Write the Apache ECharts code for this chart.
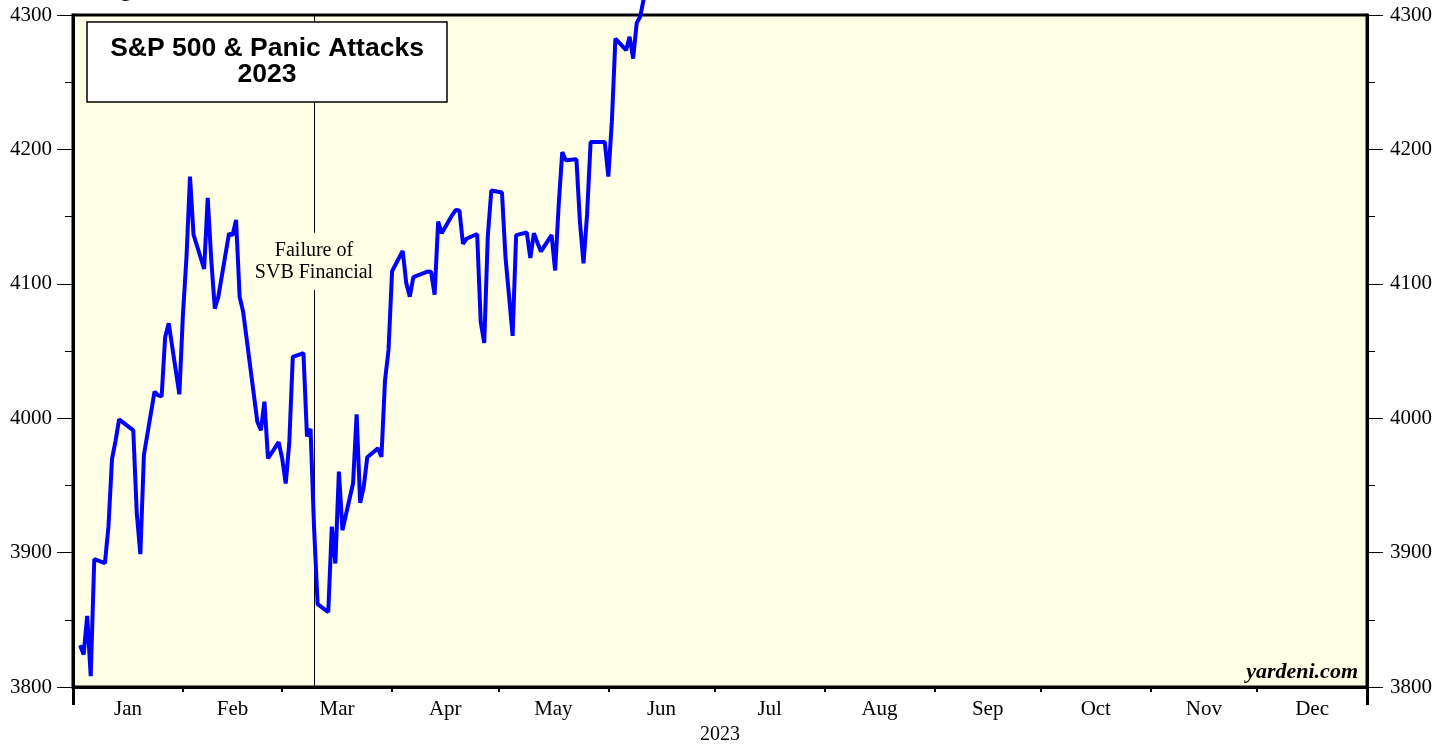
<!DOCTYPE html>
<html>
<head>
<meta charset="utf-8">
<script src="https://cdn.jsdelivr.net/npm/echarts@6/dist/echarts.min.js"></script>
<style>
html,body{margin:0;padding:0;background:#fff;}
#chart{width:1450px;height:744px;}
</style>
</head>
<body>
<div id="chart"></div>
<script>
// ---- data (2023, S&P 500 daily close) ----
const dates = ['01-02','01-03','01-04','01-05','01-06','01-09','01-10','01-11','01-12','01-13',
'01-17','01-18','01-19','01-20','01-23','01-24','01-25','01-26','01-27','01-30','01-31',
'02-01','02-02','02-03','02-06','02-07','02-08','02-09','02-10','02-13','02-14','02-15','02-16','02-17',
'02-21','02-22','02-23','02-24','02-27','02-28',
'03-01','03-02','03-03','03-06','03-07','03-08','03-09','03-10','03-13','03-14','03-15','03-16','03-17',
'03-20','03-21','03-22','03-23','03-24','03-27','03-28','03-29','03-30','03-31',
'04-03','04-04','04-05','04-06','04-10','04-11','04-12','04-13','04-14','04-17','04-18','04-19','04-20','04-21',
'04-24','04-25','04-26','04-27','04-28',
'05-01','05-02','05-03','05-04','05-05','05-08','05-09','05-10','05-11','05-12','05-15','05-16','05-17','05-18','05-19',
'05-22','05-23','05-24','05-25','05-26','05-30','05-31',
'06-01','06-02','06-05','06-06','06-07','06-08','06-09','06-12'];
const spx = [3831,3824.14,3852.97,3808.10,3895.08,3892.09,3919.25,3969.61,3983.17,3999.09,
3990.97,3928.86,3898.85,3972.61,4019.81,4016.95,4016.22,4060.43,4070.56,4017.77,4076.60,
4119.21,4179.76,4136.48,4111.08,4164.00,4117.86,4081.50,4090.46,4137.29,4136.13,4147.60,4090.41,4079.09,
3997.34,3991.05,4012.32,3970.04,3982.24,3970.15,
3951.39,3981.35,4045.64,4048.42,3986.37,3992.01,3918.32,3861.59,3855.76,3919.29,3891.93,3960.28,3916.64,
3951.57,4002.87,3936.97,3948.72,3970.99,3977.53,3971.27,4027.81,4050.83,4109.31,
4124.51,4100.60,4090.38,4105.02,4109.11,4108.94,4091.95,4146.22,4137.64,4151.32,4154.87,4154.52,4129.79,4133.52,
4137.04,4071.63,4055.99,4135.35,4169.48,
4167.87,4119.58,4090.75,4061.22,4136.25,4138.12,4119.17,4137.64,4130.62,4124.08,4136.28,4109.90,4158.77,4198.05,4191.98,
4192.63,4145.58,4115.24,4151.28,4205.45,4205.52,4179.83,
4221.02,4282.37,4273.79,4283.85,4267.52,4293.93,4298.86,4338.93];
const monthNames = ['Jan','Feb','Mar','Apr','May','Jun','Jul','Aug','Sep','Oct','Nov','Dec'];
const monthStarts = [0,31,59,90,120,151,181,212,243,273,304,334,365];
const yearLabel = '2023';
const yTicks = [3800,3900,4000,4100,4200,4300];
const svbDay = 68; // event line (day of year axis units)
const svbLabel = 'Failure of\nSVB Financial';
const titleLines = ['S&P 500 & Panic Attacks','2023'];

// ---- helpers ----
function dayOfYear(md){
  const [m,d] = md.split('-').map(Number);
  return (Date.UTC(2023,m-1,d) - Date.UTC(2023,0,1))/86400000 + 1;
}
const seriesData = dates.map((d,i)=>[dayOfYear(d), spx[i]]);
const monthMids = monthNames.map((_,i)=>(monthStarts[i]+monthStarts[i+1])/2);

const serif = '"Liberation Serif","Times New Roman",serif';
const sans = '"Liberation Sans",Arial,sans-serif';

function makeYAxis(pos, margin){
  return {
    type:'value', position:pos, min:yTicks[0], max:yTicks[yTicks.length-1], interval:100,
    axisLine:{show:true,onZero:false,lineStyle:{color:'#000',width:3}},
    axisTick:{show:true,inside:false,length:16,lineStyle:{color:'#000',width:1}},
    minorTick:{show:true,splitNumber:2,length:8,lineStyle:{color:'#000',width:1}},
    splitLine:{show:false},
    minorSplitLine:{show:false},
    axisLabel:{show:true,margin:margin,color:'#000',fontFamily:serif,fontSize:21,padding:[8,0,0,0],
      formatter:function(v){return String(v);}}
  };
}

const chart = echarts.init(document.getElementById('chart'),null,{renderer:'canvas'});
chart.setOption({
  animation:false,
  backgroundColor:'#fff',
  grid:{left:73,right:83,top:15,bottom:57,containLabel:false,outerBoundsMode:'none',
    show:true,backgroundColor:'#FFFFE6',borderColor:'#000',borderWidth:3},
  xAxis:[{
    type:'value', min:0, max:365,
    axisLine:{show:true,onZero:false,lineStyle:{color:'#000',width:3}},
    axisTick:{show:true,inside:false,length:5,customValues:monthStarts.slice(1,12),lineStyle:{color:'#000',width:2}},
    axisLabel:{show:true,customValues:monthMids,margin:12,color:'#000',fontFamily:serif,fontSize:21,
      formatter:function(v){const i=monthMids.indexOf(v);return i>=0?monthNames[i]:'';}},
    splitLine:{show:false},
    name:yearLabel, nameLocation:'middle', nameGap:36,
    nameTextStyle:{color:'#000',fontFamily:serif,fontSize:20}
  },{
    type:'value', min:0, max:365, position:'bottom',
    axisLine:{show:false},
    axisTick:{show:true,inside:false,length:18,customValues:[0,365],lineStyle:{color:'#000',width:3}},
    axisLabel:{show:false},
    splitLine:{show:false}
  }],
  yAxis:[ makeYAxis('left',21), makeYAxis('right',23) ],
  series:[{
    type:'line',
    data:seriesData,
    showSymbol:false,
    clip:false,
    lineStyle:{color:'#0000FF',width:4},
    z:5,
    markLine:{
      silent:true, symbol:['none','none'],
      lineStyle:{color:'#000',width:1,type:'solid'},
      label:{show:false},
      data:[
        [{coord:[svbDay,4300]},{coord:[svbDay,4138]}],
        [{coord:[svbDay,4095.5]},{coord:[svbDay,3800]}]
      ]
    }
  }],
  graphic:[
    {type:'text',z:10,style:{text:svbLabel,x:314,y:262,align:'center',verticalAlign:'middle',
      font:'20px '+serif,fill:'#000',lineHeight:22}},
    {type:'rect',z:20,shape:{x:87,y:22,width:360,height:80},style:{fill:'#fff',stroke:'#000',lineWidth:1.5}},
    {type:'text',z:21,style:{text:titleLines[0],x:267,y:49,align:'center',verticalAlign:'middle',font:'bold 26.5px '+sans,fill:'#000'}},
    {type:'text',z:21,style:{text:titleLines[1],x:267,y:75,align:'center',verticalAlign:'middle',font:'bold 26.5px '+sans,fill:'#000'}},
    {type:'text',z:21,style:{text:'yardeni.com',x:1358,y:672,align:'right',verticalAlign:'middle',font:'italic bold 22px '+serif,fill:'#000'}},
    {type:'text',z:21,style:{text:'g',x:118,y:-11,align:'left',verticalAlign:'middle',font:'bold 26px '+sans,fill:'#000'}}
  ]
});
</script>
</body>
</html>
